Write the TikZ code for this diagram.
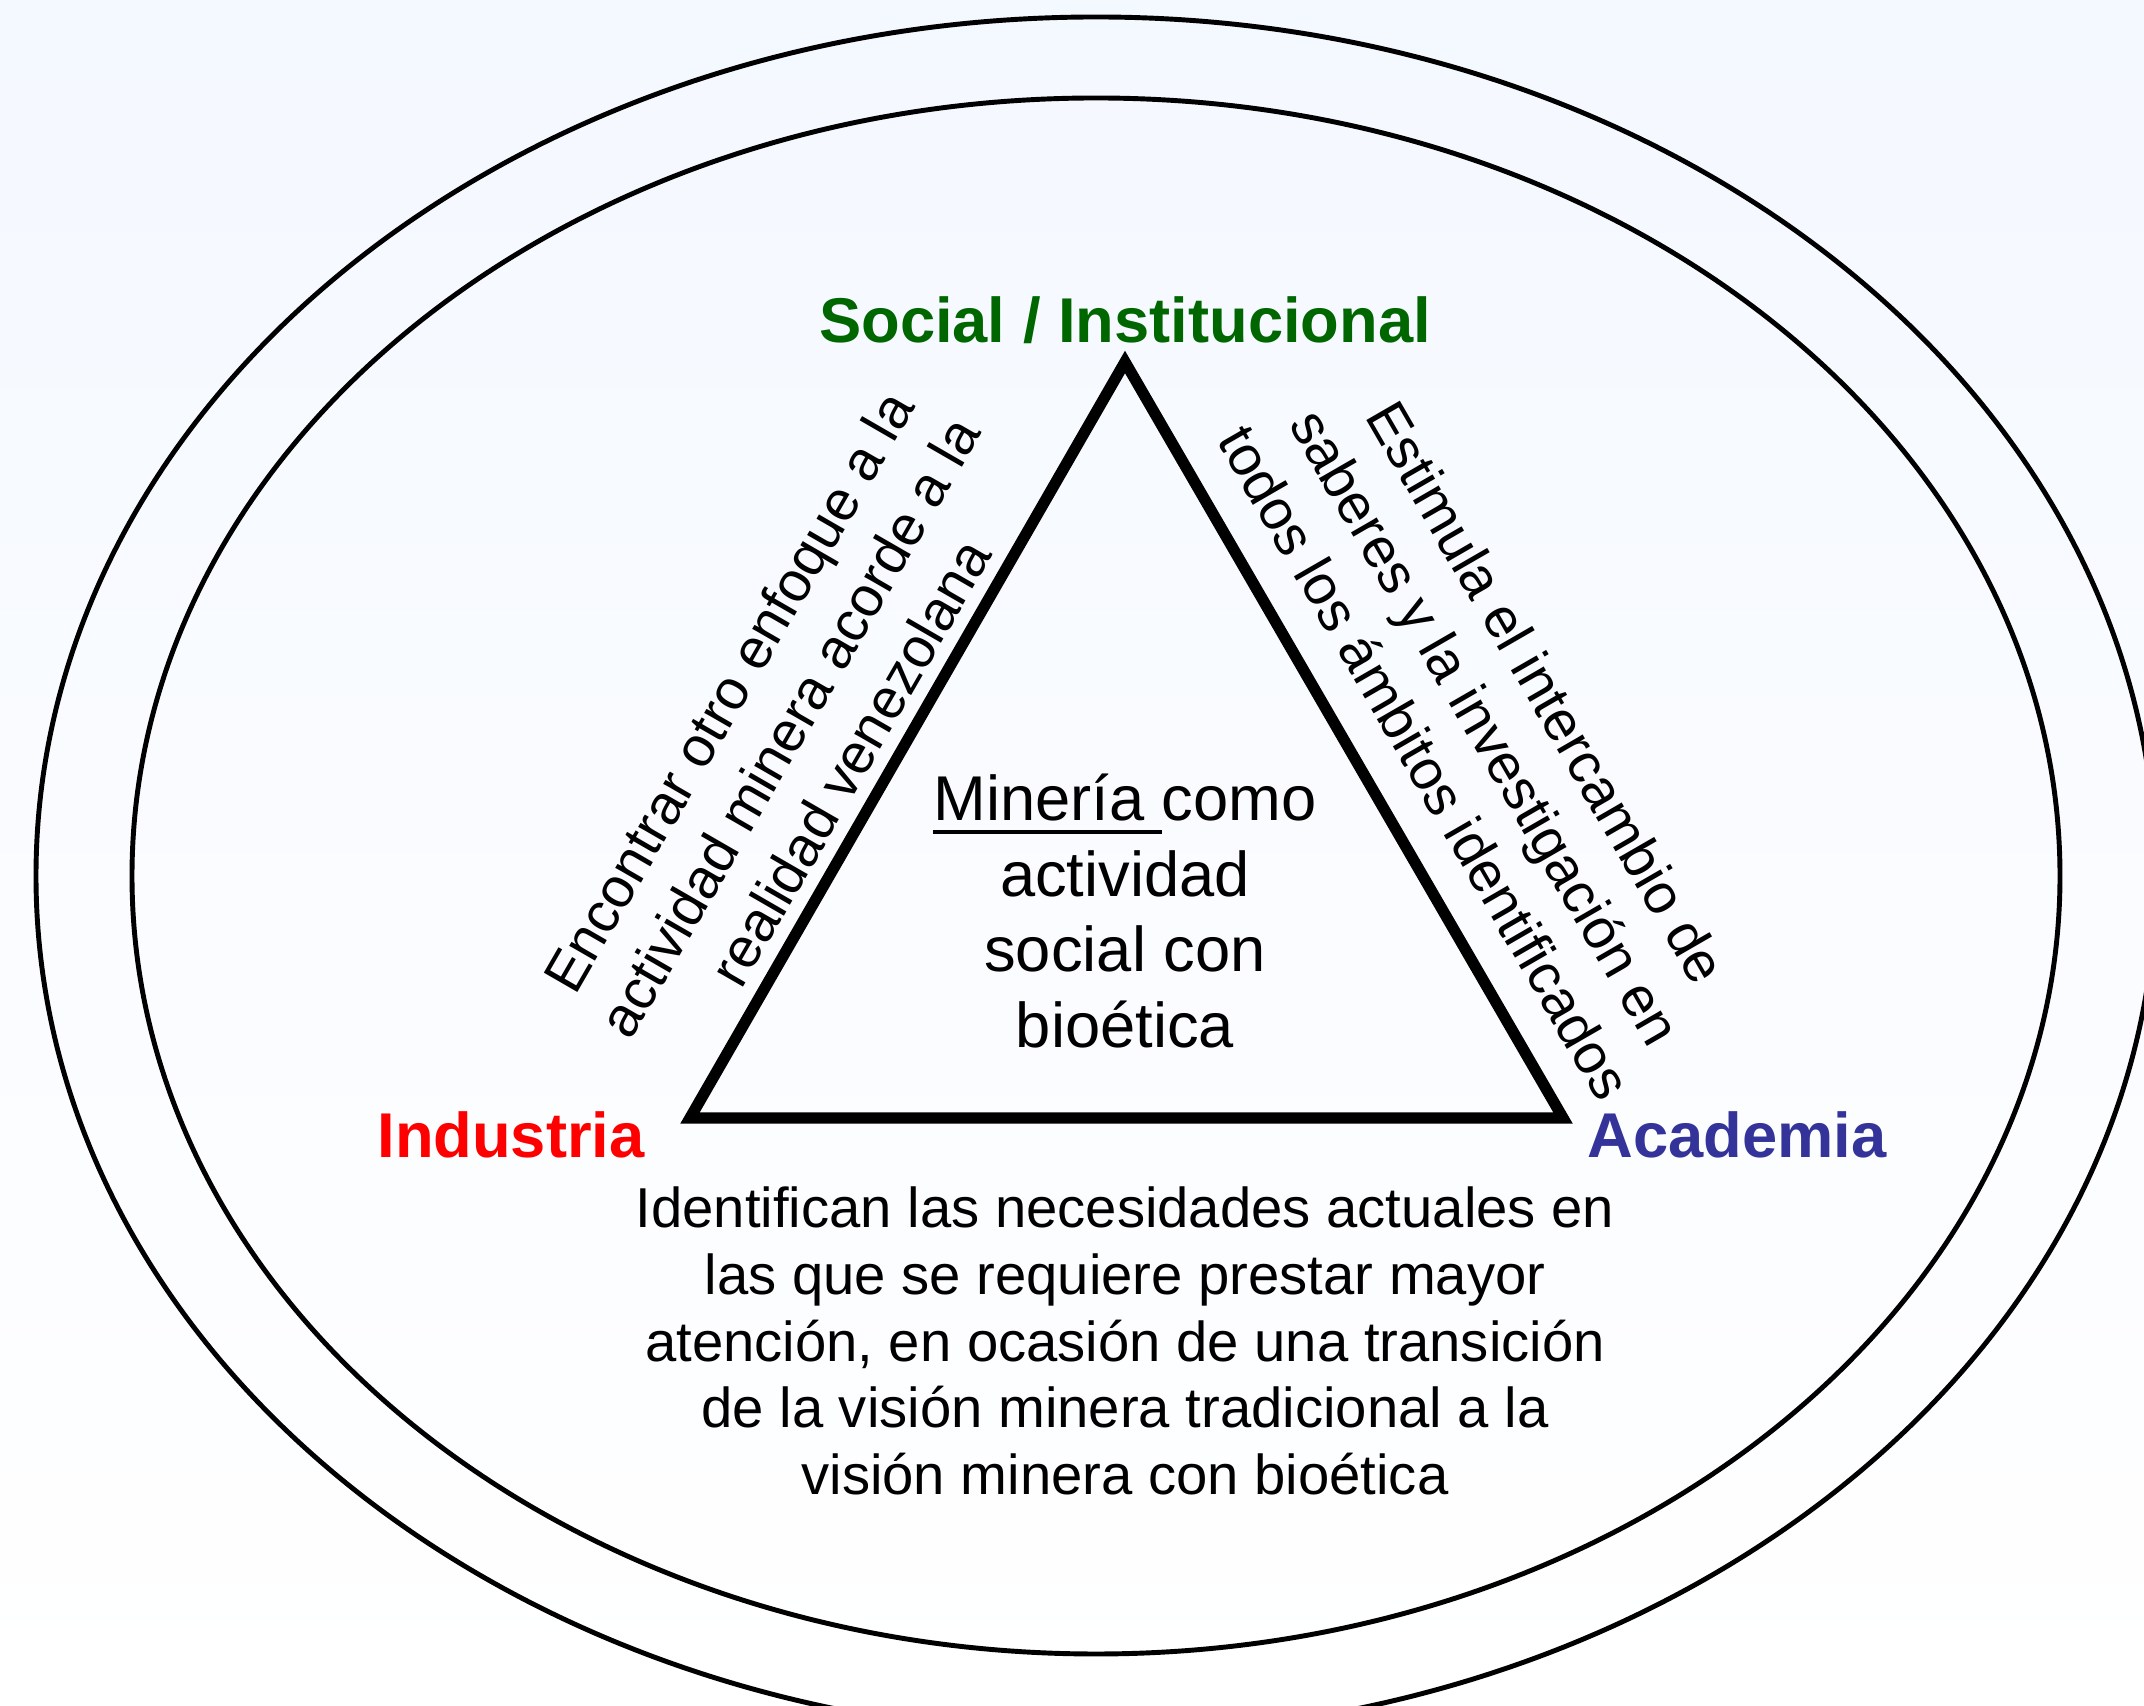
\documentclass[tikz,border=0pt]{standalone}
\usepackage{fontspec}
\setmainfont{Liberation Sans}
\usepackage{tikz}
\usetikzlibrary{calc}

\definecolor{socialgreen}{RGB}{0,102,0}
\definecolor{industryred}{RGB}{255,0,0}
\definecolor{academiablue}{RGB}{51,51,153}
\definecolor{bgtop}{RGB}{244,248,255}

\newcommand{\thickul}[1]{\leavevmode\vtop{\hbox{#1}\kern2.6pt\hrule height 1.1pt}}

\begin{document}
\begin{tikzpicture}[
  ring/.style={line width=1.4pt},
  vertexlabel/.style={font=\fontsize{18}{22}\selectfont\bfseries},
  sidetext/.style={align=center, font=\fontsize{16}{20}\selectfont},
  bodytext/.style={align=center, font=\fontsize{16}{19}\selectfont}
]
  \useasboundingbox (0,0) rectangle (21.44,17.06);
  \shade[top color=bgtop, bottom color=white] (0,0) rectangle (21.44,17.06);
  \clip (0,0) rectangle (21.44,17.06);

  % Two rings round the whole scheme
  \coordinate (O) at (10.96,8.30);
  \draw[ring] (O) ellipse [x radius=10.60, y radius=8.59];
  \draw[ring] (O) ellipse [x radius=9.64, y radius=7.78];

  % Triangle
  \coordinate (T) at (11.25,13.44);
  \coordinate (L) at ( 6.90, 5.88);
  \coordinate (R) at (15.63, 5.88);
  \draw[line width=3.2pt, line join=miter] (T) -- (L) -- (R) -- cycle;

  % Vertex labels
  \node[vertexlabel, text=socialgreen] (social) at ($(T)+(0,0.42)$) {Social / Institucional};
  \node[vertexlabel, text=industryred, anchor=east] (industria) at ($(L)+(-0.33,-0.17)$) {Industria};
  \node[vertexlabel, text=academiablue, anchor=west] (academia) at ($(R)+(0.12,-0.17)$) {Academia};

  % Centre of the triangle
  \node[align=center, font=\fontsize{18}{21.6}\selectfont] (mining) at (11.25,7.95)
    {\thickul{Minería }como\\ actividad\\ social con\\ bioética};

  % Texts along the sides
  \node[sidetext, rotate=60] (focus) at (7.89,9.79)
    {Encontrar otro enfoque a la\\ actividad minera acorde a la\\ realidad venezolana};
  \node[sidetext, rotate=-60] (exchange) at (14.86,9.79)
    {Estimula el intercambio de\\ saberes y la investigación en\\ todos los ámbitos identificados};
  \node[bodytext] (needs) at (11.25,3.65)
    {Identifican las necesidades actuales en\\ las que se requiere prestar mayor\\ atención, en ocasión de una transición\\ de la visión minera tradicional a la\\ visión minera con bioética};
\end{tikzpicture}
\end{document}
